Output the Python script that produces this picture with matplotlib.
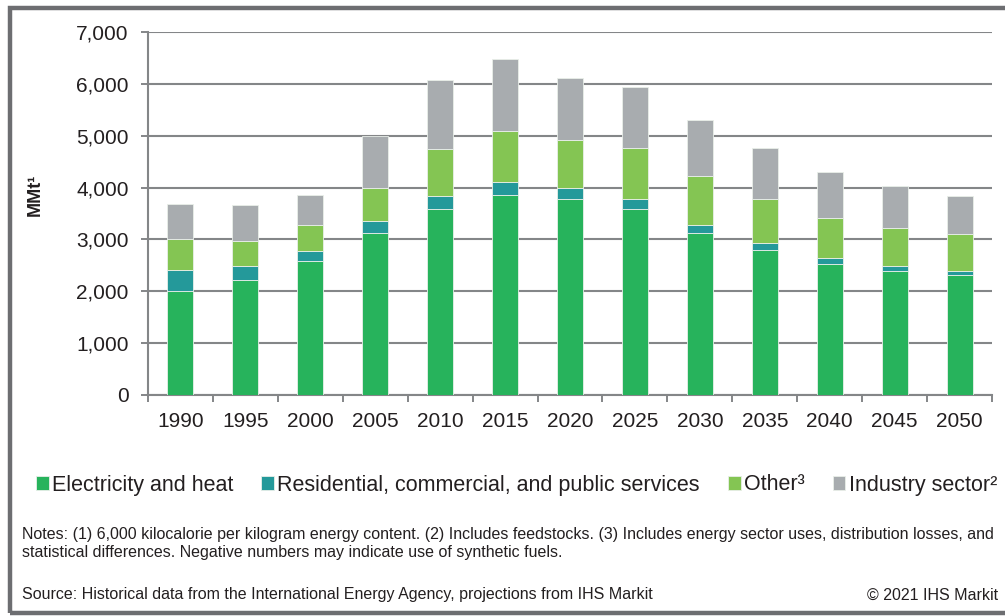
import matplotlib
matplotlib.use('Agg')
import matplotlib.pyplot as plt
import matplotlib.patches as patches
import numpy as np

plt.rcParams['font.family'] = ['Liberation Sans', 'DejaVu Sans']

# coal demand by sector, MMt
years = ['1990', '1995', '2000', '2005', '2010', '2015', '2020',
         '2025', '2030', '2035', '2040', '2045', '2050']
electricity = [2000, 2220, 2580, 3125, 3590, 3860, 3770, 3590, 3125, 2805, 2530, 2400, 2315]
residential = [420, 275, 195, 225, 255, 255, 220, 185, 160, 130, 115, 95, 70]
other = [580, 480, 510, 650, 895, 975, 925, 990, 935, 845, 770, 725, 715]
industry = [690, 690, 570, 985, 1325, 1385, 1190, 1175, 1085, 985, 880, 810, 740]

names = ['Electricity and heat', 'Residential, commercial, and public services',
         'Other\u00b3', 'Industry sector\u00b2']
cols = ['#27b35c', '#24999a', '#84c553', '#a8acaf']

txt = '#231f20'
axcol = '#848688'

fig = plt.figure(figsize=(10.05, 6.16), dpi=100)
ax = fig.add_axes([148/1005, 1-395/616, (992-148)/1005, (395-32)/616])

x = np.arange(len(years))
bottom = np.zeros(len(years))
handles = []
for vals, c, n in zip([electricity, residential, other, industry], cols, names):
    b = ax.bar(x, vals, 0.4, bottom=bottom, color=c, edgecolor='#e9efe9',
               linewidth=0.6, label=n, zorder=3)
    handles.append(b)
    bottom += np.array(vals)

ax.set_xlim(-0.5, len(years)-0.5)
ax.set_ylim(0, 7000)
ax.set_yticks(range(0, 7001, 1000))
ax.set_yticklabels(['{:,}'.format(v) for v in range(0, 7001, 1000)])
ax.set_xticks(x)
ax.set_xticklabels(years)
ax.set_xticks(np.arange(-0.5, len(years)), minor=True)
ax.tick_params(axis='x', which='major', length=0, pad=12, labelsize=15, labelcolor=txt)
ax.tick_params(axis='x', which='minor', length=5, width=1.4, color=axcol, direction='out')
ax.tick_params(axis='y', length=5, width=1.4, color=axcol, pad=9, labelsize=15, labelcolor=txt)

ax.grid(axis='y', color=axcol, linewidth=1.5, zorder=0)
for s in ['top', 'right']:
    ax.spines[s].set_visible(False)
for s in ['left', 'bottom']:
    ax.spines[s].set_color(axcol)
    ax.spines[s].set_linewidth(1.5)

fig.text(35/1005, 1-195/616, 'MMt\u00b9', rotation=90, fontsize=13, fontweight='bold',
         color=txt, ha='center', va='center')

fig.legend(handles=handles, labels=names, loc='center left',
           bbox_to_anchor=(27/1005, 1-485/616), ncol=4, frameon=False,
           fontsize=15.5, handlelength=0.6, handleheight=0.6, handletextpad=0.15,
           columnspacing=1.3, labelcolor=txt, borderaxespad=0)

fs = 11.5
fig.text(22/1005, 1-535/616,
         'Notes: (1) 6,000 kilocalorie per kilogram energy content. (2) Includes feedstocks. '
         '(3) Includes energy sector uses, distribution losses, and',
         fontsize=fs, color=txt, va='center', ha='left')
fig.text(22/1005, 1-553/616,
         'statistical differences. Negative numbers may indicate use of synthetic fuels.',
         fontsize=fs, color=txt, va='center', ha='left')
fig.text(22/1005, 1-595/616,
         'Source: Historical data from the International Energy Agency, projections from IHS Markit',
         fontsize=fs, color=txt, va='center', ha='left')
fig.text(998/1005, 1-595/616, '\u00a9 2021 IHS Markit', fontsize=fs, color=txt,
         va='center', ha='right')

# outer frame (top, left, bottom)
fig.add_artist(patches.Rectangle((9.5/1005, 3/616), 1.0, 605/616, transform=fig.transFigure,
                                 fill=False, edgecolor='#6d6e71', linewidth=3.2,
                                 clip_on=False))

fig.savefig('out.png', dpi=100)
